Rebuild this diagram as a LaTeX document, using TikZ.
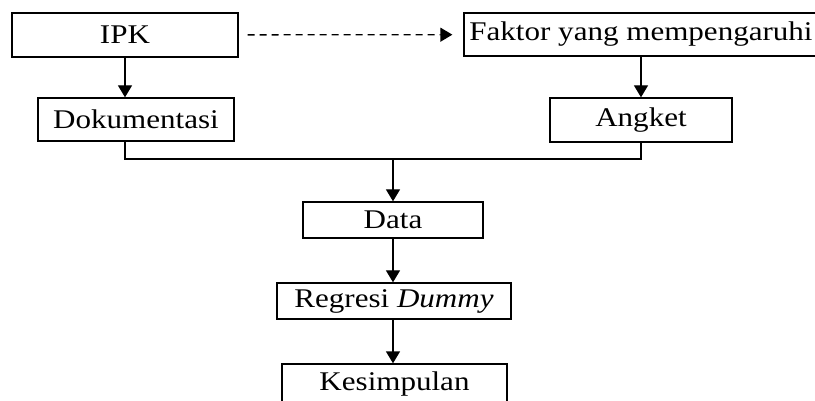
\documentclass[tikz,border=0pt]{standalone}
\usepackage{fontspec}
\setmainfont{Liberation Serif}[FakeStretch=1.15]
\usetikzlibrary{arrows.meta,positioning}

\begin{document}
\begin{tikzpicture}[x=0.5pt,y=-0.5pt,font=\fontsize{13.5}{16}\selectfont,>={Triangle[width=7pt,length=6pt]},
 box/.style={draw,line width=0.65pt,inner sep=0pt},
 link/.style={line width=0.65pt}]
\useasboundingbox (0,0) rectangle (815,401);
% top row: sources
\node[box,minimum width=113pt,minimum height=22pt] (ipk) at (125,35) {IPK};
\node[box,minimum width=177pt,minimum height=21.5pt] (faktor) at (641,34.5) {Faktor yang mempengaruhi};
\draw[link,->,dash pattern=on 3.5pt off 2.5pt,shorten <=4.5pt,shorten >=5.5pt] (ipk) -- (faktor);
% second row: how the data are gathered
\node[box,minimum width=98pt,minimum height=21.5pt] (dok) at (136,119.5) {Dokumentasi};
\node[box,minimum width=91pt,minimum height=22pt] (angket) at (641,120) {Angket};
\draw[link,->] (ipk) -- (ipk |- dok.north);
\draw[link,->] (faktor) -- (angket);
% the two branches meet
\coordinate (merge) at (393,159);
\draw[link] (ipk |- dok.south) |- (merge) -| (angket);
% down the middle
\node[box,minimum width=90pt,minimum height=18pt] (data) at (393,220) {Data};
\node[box,minimum width=117pt,minimum height=18pt] (regresi) at (394,301) {Regresi \textit{Dummy}};
\node[box,minimum width=112.5pt,minimum height=20pt] (kesimpulan) at (394.5,384) {Kesimpulan};
\draw[link,->] (merge) -- (data);
\draw[link,->] (data) -- (data |- regresi.north);
\draw[link,->] (data |- regresi.south) -- (data |- kesimpulan.north);
\end{tikzpicture}
\end{document}
